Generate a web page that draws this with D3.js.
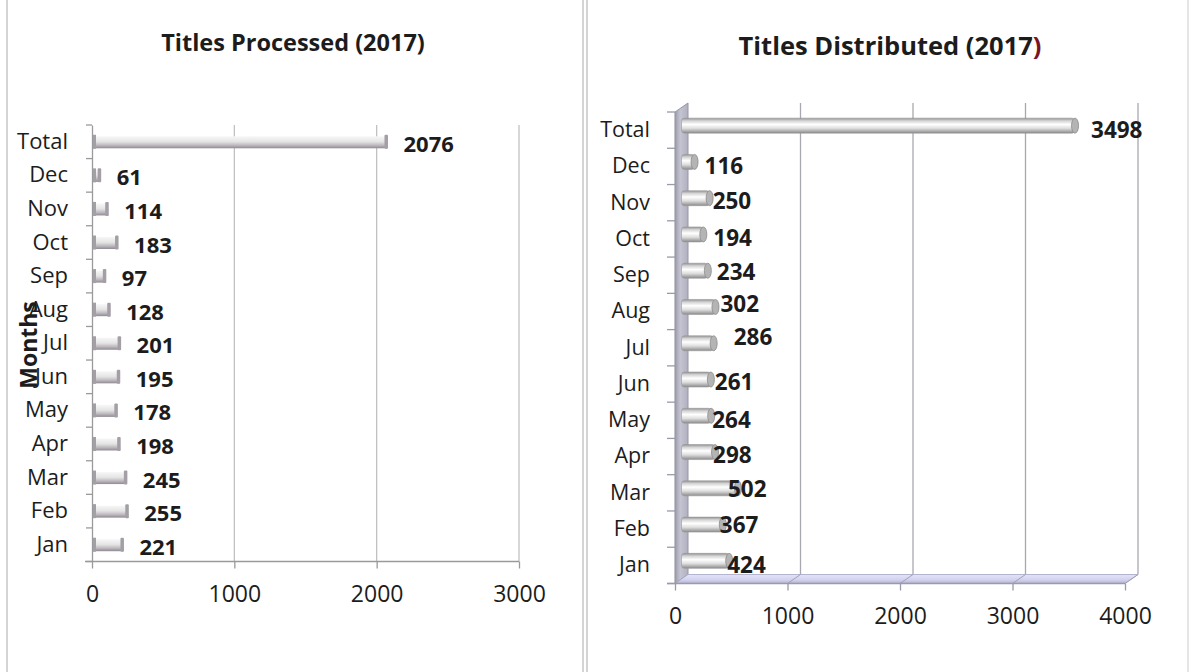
<!DOCTYPE html>
<html>
<head>
<meta charset="utf-8">
<script src="https://cdn.jsdelivr.net/npm/d3@7"></script>
<style>
  html, body { margin: 0; padding: 0; background: #fff; }
  svg { display: block; }
  text { font-family: "Open Sans", "DejaVu Sans", sans-serif; fill: #1c1c1c; }
</style>
</head>
<body>
<svg id="chart" width="1191" height="672"></svg>
<script>
// Monthly counts for 2017, listed from the top row (Total) down to January
const categories = ["Total", "Dec", "Nov", "Oct", "Sep", "Aug", "Jul", "Jun", "May", "Apr", "Mar", "Feb", "Jan"];
const processed   = [2076, 61, 114, 183, 97, 128, 201, 195, 178, 198, 245, 255, 221];
const distributed = [3498, 116, 250, 194, 234, 302, 286, 261, 264, 298, 502, 367, 424];
const processedTicks   = [0, 1000, 2000, 3000];
const distributedTicks = [0, 1000, 2000, 3000, 4000];

// Hand-placed label offsets for the 3-D chart (dx, dy in px from the bar end)
const distributedLabelNudge = [[16,-1],[10,-1],[3,-2],[10,-1],[9,-4],[5,-8],[20,-11],[4,-3],[1,-1],[-2,-2],[-10,-4],[-3,-5],[-2,-1]];

const svg = d3.select("#chart");
const defs = svg.append("defs");

// ---------- gradients ----------
const gFlat = defs.append("linearGradient").attr("id", "barFlat").attr("x1", 0).attr("y1", 0).attr("x2", 0).attr("y2", 1);
[["0%", "#f7f7f7"], ["45%", "#e4e4e4"], ["75%", "#bdb8bd"], ["100%", "#8f8a93"]]
  .forEach(([o, c]) => gFlat.append("stop").attr("offset", o).attr("stop-color", c));

const gCyl = defs.append("linearGradient").attr("id", "barCyl").attr("x1", 0).attr("y1", 0).attr("x2", 0).attr("y2", 1);
[["0%", "#929292"], ["18%", "#d4d4d4"], ["42%", "#ffffff"], ["68%", "#dedede"], ["100%", "#8a8a8a"]]
  .forEach(([o, c]) => gCyl.append("stop").attr("offset", o).attr("stop-color", c));

const gWall = defs.append("linearGradient").attr("id", "wall").attr("x1", 0).attr("y1", 0).attr("x2", 1).attr("y2", 0);
[["0%", "#9c9cac"], ["40%", "#c4c4d2"], ["100%", "#b0b0c0"]]
  .forEach(([o, c]) => gWall.append("stop").attr("offset", o).attr("stop-color", c));

const gFloor = defs.append("linearGradient").attr("id", "floor").attr("x1", 0).attr("y1", 0).attr("x2", 0).attr("y2", 1);
[["0%", "#e4e4f6"], ["60%", "#d2d2ee"], ["100%", "#b4b4d4"]]
  .forEach(([o, c]) => gFloor.append("stop").attr("offset", o).attr("stop-color", c));

// ---------- panel frames ----------
const frame = svg.append("g").attr("stroke", "#b8b8b8").attr("stroke-width", 1.2);
frame.append("line").attr("x1", 7).attr("x2", 7).attr("y1", 0).attr("y2", 672);
frame.append("line").attr("x1", 583).attr("x2", 583).attr("y1", 0).attr("y2", 672);
frame.append("line").attr("x1", 587).attr("x2", 587).attr("y1", 0).attr("y2", 672);
frame.append("line").attr("x1", 1188).attr("x2", 1188).attr("y1", 0).attr("y2", 672).attr("stroke", "#d4d4d4");

// ======================= Titles Processed =======================
const L = svg.append("g");
const xL = d3.scaleLinear().domain([0, 3000]).range([92, 519]);
const yL = d3.scaleBand().domain(categories).range([125, 561.5]);

L.append("text").attr("x", 293).attr("y", 42).attr("text-anchor", "middle")
  .attr("dominant-baseline", "central").attr("font-weight", "bold").attr("font-size", 23.5)
  .text("Titles Processed (2017)");

// vertical gridlines
L.append("g").selectAll("line").data(processedTicks.filter(d => d > 0)).join("line")
  .attr("x1", d => xL(d)).attr("x2", d => xL(d))
  .attr("y1", yL.range()[0]).attr("y2", yL.range()[1])
  .attr("stroke", "#bdbdbd").attr("stroke-width", 1.2);

// value axis
const axL = L.append("g").attr("transform", `translate(0,${yL.range()[1]})`)
  .call(d3.axisBottom(xL).tickValues(processedTicks).tickSize(7).tickPadding(17).tickFormat(d3.format("d")));
axL.select(".domain").attr("d", `M85,0H${xL(3000)}`).attr("stroke", "#9a9a9a").attr("stroke-width", 1.3);
axL.selectAll(".tick line").attr("stroke", "#9a9a9a").attr("stroke-width", 1.3);
axL.selectAll(".tick text").attr("font-size", 23).attr("fill", "#2a2a2a").attr("font-family", "Open Sans");

// category axis
const cyL = L.append("g").attr("transform", `translate(${xL(0)},0)`)
  .call(d3.axisLeft(yL).tickSize(0).tickPadding(24));
cyL.select(".domain").attr("stroke", "#9a9a9a").attr("stroke-width", 1.3);
cyL.selectAll(".tick text").attr("font-size", 22).attr("fill", "#2a2a2a").attr("font-family", "Open Sans");
L.append("g").selectAll("line").data(d3.range(categories.length + 1)).join("line")
  .attr("x1", xL(0) - 6).attr("x2", xL(0))
  .attr("y1", i => yL.range()[0] + i * yL.step()).attr("y2", i => yL.range()[0] + i * yL.step())
  .attr("stroke", "#9a9a9a").attr("stroke-width", 1.3);

// axis title
L.append("text").attr("transform", "translate(28,345) rotate(-90)").attr("text-anchor", "middle")
  .attr("dominant-baseline", "central").attr("font-weight", "bold").attr("font-size", 23)
  .text("Months");

// bars
const barH = 12;
const barsL = L.append("g").selectAll("g").data(categories.map((c, i) => ({ c, v: processed[i] }))).join("g");
barsL.append("rect")
  .attr("x", xL(0) + 1).attr("y", d => yL(d.c) + yL.bandwidth() / 2 - barH / 2 + 0.5)
  .attr("width", d => xL(d.v) - xL(0) - 1).attr("height", barH)
  .attr("fill", "url(#barFlat)");
barsL.append("rect")
  .attr("x", xL(0) + 1).attr("y", d => yL(d.c) + yL.bandwidth() / 2 - barH / 2 - 1)
  .attr("width", 3).attr("height", barH + 2).attr("fill", "#a49ea6");
barsL.append("rect")
  .attr("x", d => xL(d.v) - 3).attr("y", d => yL(d.c) + yL.bandwidth() / 2 - barH / 2 - 1)
  .attr("width", 3.5).attr("height", barH + 2).attr("rx", 1).attr("fill", "#a49ea6");
barsL.append("text")
  .attr("x", d => xL(d.v) + 16).attr("y", d => yL(d.c) + yL.bandwidth() / 2 + 1)
  .attr("dominant-baseline", "central").attr("font-weight", "bold").attr("font-size", 22)
  .text(d => d.v);

// ======================= Titles Distributed (3-D) =======================
const R = svg.append("g");
const xR = d3.scaleLinear().domain([0, 4000]).range([675, 1125]);
const yR = d3.scaleBand().domain(categories).range([112, 583.5]);
const depth = { dx: 13, dy: -9 };
const floorY = yR.range()[1];

const title = R.append("text").attr("x", 890).attr("y", 45).attr("text-anchor", "middle")
  .attr("dominant-baseline", "central").attr("font-weight", "bold").attr("font-size", 25.5);
title.append("tspan").text("Titles Distributed (2017");
title.append("tspan").attr("fill", "#7a1424").text(")");

// side wall
R.append("polygon")
  .attr("points", [
    [xR(0), yR.range()[0]], [xR(0) + depth.dx, yR.range()[0] + depth.dy],
    [xR(0) + depth.dx, floorY + depth.dy], [xR(0), floorY]
  ].map(p => p.join(",")).join(" "))
  .attr("fill", "url(#wall)").attr("stroke", "#9696a8").attr("stroke-width", 1);

// back gridlines
R.append("g").selectAll("line").data(distributedTicks.filter(d => d > 0)).join("line")
  .attr("x1", d => xR(d) + depth.dx).attr("x2", d => xR(d) + depth.dx)
  .attr("y1", yR.range()[0] + depth.dy).attr("y2", floorY + depth.dy)
  .attr("stroke", "#a8a8b0").attr("stroke-width", 1.3);

// floor
R.append("polygon")
  .attr("points", [
    [xR(0), floorY], [xR(4000), floorY],
    [xR(4000) + depth.dx, floorY + depth.dy], [xR(0) + depth.dx, floorY + depth.dy]
  ].map(p => p.join(",")).join(" "))
  .attr("fill", "url(#floor)").attr("stroke", "#a4a4c4").attr("stroke-width", 0.8);
R.append("g").selectAll("line").data(distributedTicks.filter(d => d > 0)).join("line")
  .attr("x1", d => xR(d)).attr("x2", d => xR(d) + depth.dx)
  .attr("y1", floorY).attr("y2", floorY + depth.dy)
  .attr("stroke", "#a0a0b8").attr("stroke-width", 1);

// value axis on the floor's front edge
const axR = R.append("g").attr("transform", `translate(0,${floorY})`)
  .call(d3.axisBottom(xR).tickValues(distributedTicks).tickSize(7).tickPadding(17).tickFormat(d3.format("d")));
axR.select(".domain").attr("d", `M667,0H${xR(4000)}`).attr("stroke", "#9a9aaa").attr("stroke-width", 1.3);
axR.selectAll(".tick line").attr("stroke", "#9a9aaa").attr("stroke-width", 1.3);
axR.selectAll(".tick text").attr("font-size", 23).attr("fill", "#2a2a2a").attr("font-family", "Open Sans");

// category axis
const cyR = R.append("g").attr("transform", `translate(${xR(0)},0)`)
  .call(d3.axisLeft(yR).tickSize(0).tickPadding(25));
cyR.select(".domain").attr("stroke", "#9a9aaa").attr("stroke-width", 1.3);
cyR.selectAll(".tick text").attr("font-size", 21.5).attr("fill", "#2a2a2a").attr("font-family", "Open Sans");
R.append("g").selectAll("line").data(d3.range(categories.length + 1)).join("line")
  .attr("x1", xR(0) - 8).attr("x2", xR(0))
  .attr("y1", i => yR.range()[0] + i * yR.step()).attr("y2", i => yR.range()[0] + i * yR.step())
  .attr("stroke", "#9a9aaa").attr("stroke-width", 1.3);

// cylinders sit half-way into the depth
const cylH = 15;
const cx0 = xR(0) + depth.dx / 2;
const cyOff = depth.dy / 2;
const barsR = R.append("g").selectAll("g")
  .data(categories.map((c, i) => ({ c, v: distributed[i], n: distributedLabelNudge[i] }))).join("g");
const barEnd = d => xR(d.v) + depth.dx / 2;
const barMid = d => yR(d.c) + yR.bandwidth() / 2 + cyOff;
barsR.append("rect")
  .attr("x", cx0).attr("y", d => barMid(d) - cylH / 2)
  .attr("width", d => barEnd(d) - cx0).attr("height", cylH)
  .attr("rx", 3)
  .attr("fill", "url(#barCyl)").attr("stroke", "#9a9a9a").attr("stroke-width", 0.6);
barsR.append("ellipse")
  .attr("cx", d => barEnd(d)).attr("cy", d => barMid(d))
  .attr("rx", 3.5).attr("ry", cylH / 2)
  .attr("fill", "#b4b4b4").attr("stroke", "#8a8a8a").attr("stroke-width", 0.8);
barsR.append("text")
  .attr("x", d => barEnd(d) + d.n[0]).attr("y", d => yR(d.c) + yR.bandwidth() / 2 + d.n[1])
  .attr("dominant-baseline", "central").attr("font-weight", "bold").attr("font-size", 22.5)
  .text(d => d.v);
</script>
</body>
</html>
